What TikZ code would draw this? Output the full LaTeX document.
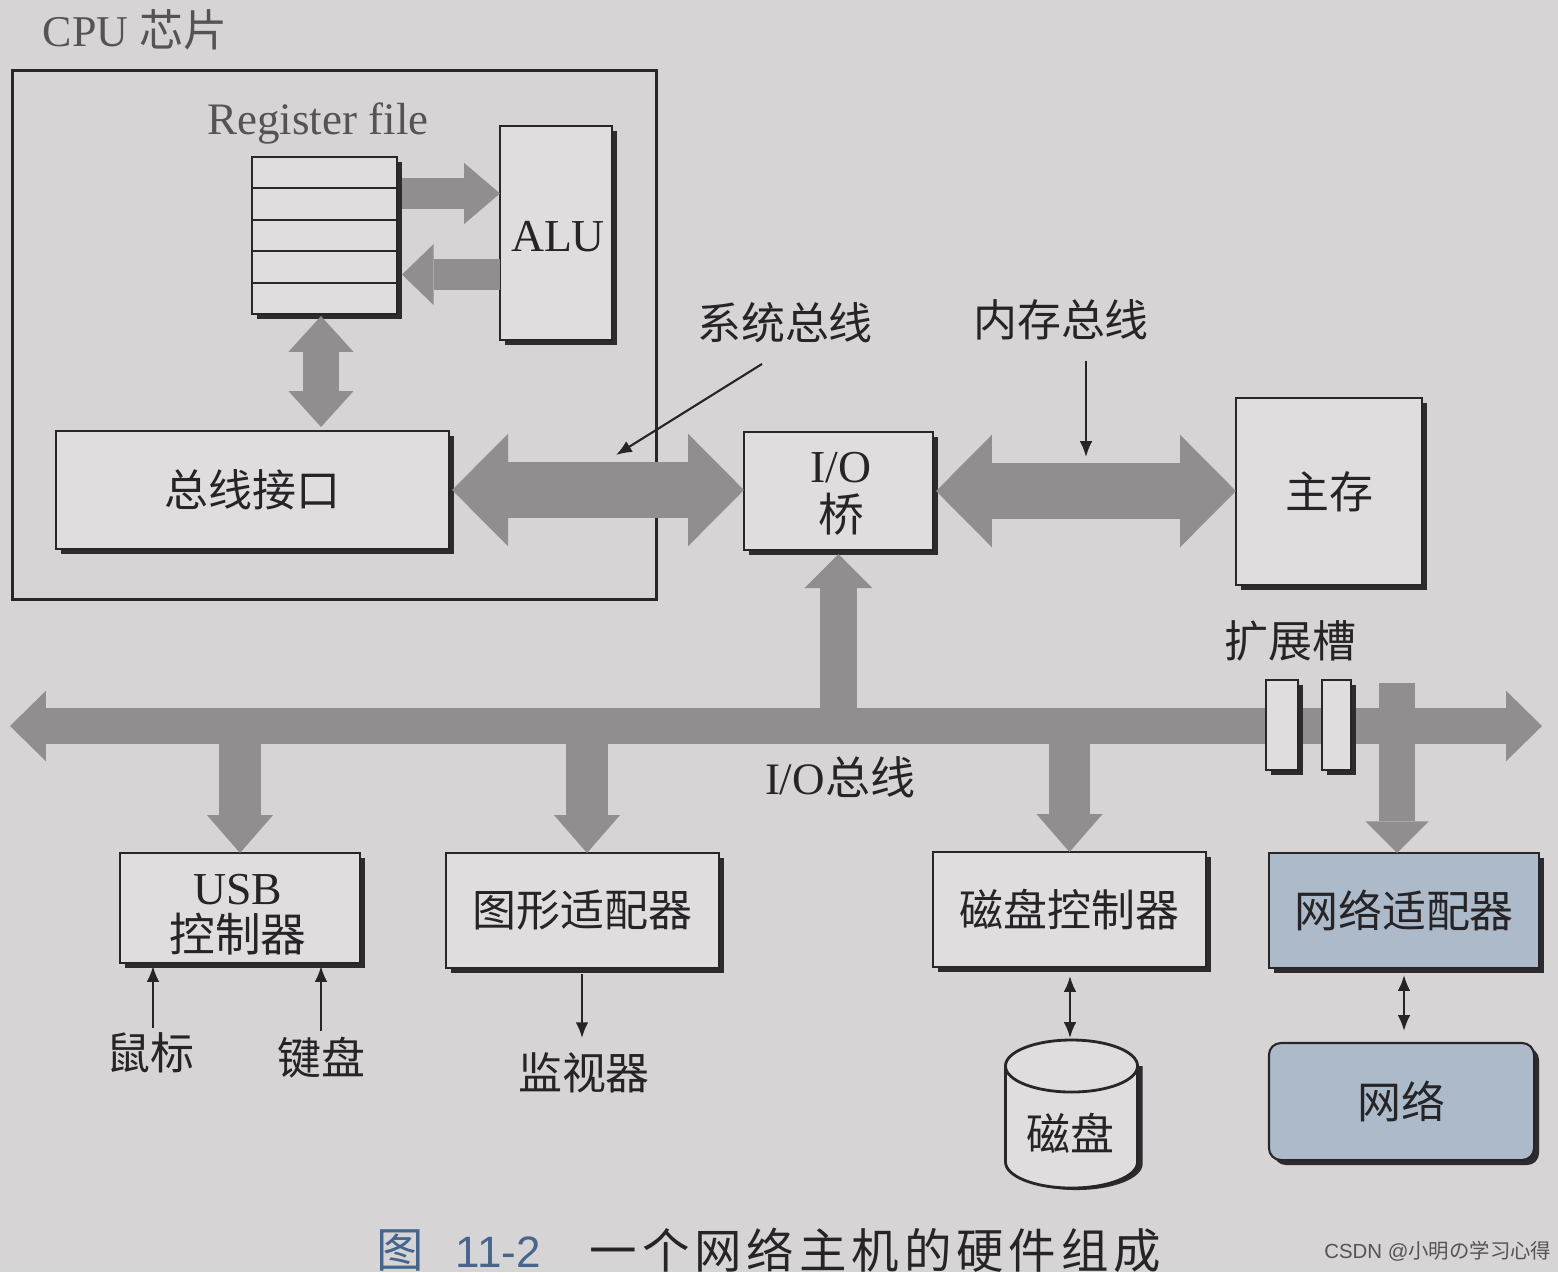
\documentclass[tikz,border=0pt]{standalone}
\usepackage{fontspec}
\setmainfont{Liberation Serif}
\newfontfamily\cjk{Noto Sans CJK SC}
\newfontfamily\sansf{Liberation Sans}
\usetikzlibrary{arrows.meta,calc,shadows}
\definecolor{bgc}{RGB}{214,212,213}
\definecolor{boxc}{RGB}{223,221,222}
\definecolor{linec}{RGB}{40,38,40}
\definecolor{textc}{RGB}{38,36,38}
\definecolor{greyt}{RGB}{85,83,85}
\definecolor{arrowc}{RGB}{145,142,143}
\definecolor{shadowc}{RGB}{45,43,45}
\definecolor{bluec}{RGB}{172,186,201}
\definecolor{capblue}{RGB}{70,100,140}
\newcommand\cks{\kern1.4pt}
\begin{document}
\begin{tikzpicture}[x=0.01cm,y=-0.01cm,
 hwbox/.style={draw=linec, line width=0.6pt, fill=boxc, inner sep=0pt, outer sep=0pt,
   drop shadow={shadow xshift=0.05cm, shadow yshift=-0.05cm, fill=shadowc, opacity=1, draw=none}},
 lbl/.style={text=textc, inner sep=0pt, font=\cjk\fontsize{12.5}{15}\selectfont},
 fatone/.style n args={3}{draw=arrowc, line width=#1, -{Triangle[length=#2, width=#3, line width=0pt]}},
 fattwo/.style n args={3}{draw=arrowc, line width=#1, {Triangle[length=#2, width=#3, line width=0pt]}-{Triangle[length=#2, width=#3, line width=0pt]}},
 thinarr/.style={draw=textc, line width=0.6pt, -{Latex[length=4.5pt, width=3.6pt]}},
 thindbl/.style={draw=textc, line width=0.6pt, {Latex[length=4.5pt, width=3.6pt]}-{Latex[length=4.5pt, width=3.6pt]}}]

\fill[bgc] (0,0) rectangle (1558,1272);
\useasboundingbox (0,0) rectangle (1558,1272);

% CPU chip
\node[text=greyt, inner sep=0pt, font=\fontsize{12.5}{15}\selectfont] (cpul) at (135,30) {CPU {\cjk 芯片}};
\node[draw=linec, line width=0.9pt, minimum width=6.43cm, minimum height=5.28cm, inner sep=0pt] (cpu) at (334.5,335) {};
\node[text=greyt, inner sep=0pt, font=\fontsize{12.8}{15}\selectfont] (regl) at (318,124) {Register file};

\node[hwbox, minimum width=1.45cm, minimum height=1.57cm] (reg) at (324.5,235.5) {};
\foreach \f in {0.2,0.4,0.6,0.8}
  \draw[linec, line width=0.6pt] ($(reg.north west)!\f!(reg.south west)$) -- ($(reg.north east)!\f!(reg.south east)$);
\node[hwbox, minimum width=1.12cm, minimum height=2.14cm] (alu) at (556,233) {};
\node[text=textc, inner sep=0pt, font=\fontsize{13}{15}\selectfont] (alut) at (558,237) {ALU};
\node[hwbox, minimum width=3.93cm, minimum height=1.18cm, lbl] (bi) at (252.5,490) {总线接口};

% register <-> ALU
\coordinate (ra1) at ([xshift=0.05cm, yshift=0.42cm]reg.east);
\draw[fatone={8.8pt}{10.2pt}{17.4pt}] (ra1) -- (ra1 -| alu.west);
\coordinate (ra2) at ([xshift=0.05cm, yshift=-0.39cm]reg.east);
\draw[fatone={8.8pt}{9pt}{17.4pt}] (ra2 -| alu.west) -- (ra2);
% register <-> bus interface
\coordinate (rb) at ([xshift=-0.035cm, yshift=-0.02cm]reg.south);
\draw[fattwo={10.5pt}{10.2pt}{18.5pt}] (rb) -- ([yshift=0.04cm]rb |- bi.north);

% I/O bridge and memory
\node[hwbox, minimum width=1.89cm, minimum height=1.18cm] (iob) at (838.5,491) {};
\node[align=center, inner sep=0pt, text=textc, font=\fontsize{13}{14}\selectfont] (iobt) at (841,494) {I/O\\{\cjk 桥}};
\node[hwbox, minimum width=1.86cm, minimum height=1.87cm, lbl] (mem) at (1329,491.5) {主存};

\draw[fattwo={15.9pt}{15.9pt}{32pt}] ([xshift=0.03cm]bi.east) -- (bi.east -| iob.west);
\draw[fattwo={15.9pt}{15.9pt}{32pt}] ([xshift=0.03cm]iob.east) -- (iob.east -| mem.west);

\node[lbl] (sysl) at (785,323) {系统总线};
\coordinate (sysp) at (616,455);
\draw[thinarr] ([xshift=-0.23cm, yshift=-0.2cm]sysl.south) -- (sysp);
\node[lbl] (meml) at (1061,320) {内存总线};
\coordinate (memp) at (1086,457);
\draw[thinarr] (memp |- meml.south) ++(0,20) -- (memp);

% I/O bus
\coordinate (busL) at (10,726);
\coordinate (busR) at (1542,726);
\draw[fattwo={10.2pt}{10.2pt}{20pt}] (busL) -- (busR);
\node[lbl] (slotl) at (1290,641) {扩展槽};
\node[text=textc, inner sep=0pt, font=\fontsize{12.8}{15}\selectfont] (busl) at (840,777) {I/O{\cjk 总线}};

% devices
\node[hwbox, minimum width=2.40cm, minimum height=1.10cm] (usb) at (240,908) {};
\node[align=center, inner sep=0pt, text=textc, font=\fontsize{13}{13.4}\selectfont] (usbt) at (238,915) {USB\\{\cjk 控制器}};
\node[hwbox, minimum width=2.73cm, minimum height=1.15cm, lbl] (gfx) at (582.5,910.5) {图形适配器};
\node[hwbox, minimum width=2.73cm, minimum height=1.15cm, lbl] (dc) at (1069.5,909.5) {磁盘控制器};
\node[hwbox, fill=bluec, minimum width=2.70cm, minimum height=1.15cm, lbl] (na) at (1404,910.5) {网络适配器};
\node[hwbox, fill=bluec, rounded corners=0.12cm, minimum width=2.65cm, minimum height=1.17cm, lbl] (net) at (1401.5,1101.5) {网络};

% bus -> devices
\draw[fatone={10.5pt}{9.7pt}{19.3pt}] (iob.south |- busL) -- ([yshift=-0.04cm]iob.south);
\draw[fatone={11.9pt}{10.8pt}{18.8pt}] (usb.north |- busL) -- (usb.north);
\coordinate (gfxin) at ($(gfx.north)+(4.5,0)$);
\draw[fatone={11.9pt}{10.8pt}{18.8pt}] (gfxin |- busL) -- (gfxin);
\draw[fatone={11.9pt}{10.8pt}{18.8pt}] (dc.north |- busL) -- (dc.north);
\coordinate (nastub) at (1397,683);
\draw[fatone={10pt}{9pt}{18pt}] (nastub) -- (nastub |- na.north);

% expansion slots
\node[hwbox, minimum width=0.32cm, minimum height=0.90cm] (s1) at (1282,725) {};
\node[hwbox, minimum width=0.29cm, minimum height=0.90cm] (s2) at (1336.5,725) {};

% peripherals
\node[lbl] (mouse) at (150,1053) {鼠标};
\node[lbl] (kb) at (321,1058) {键盘};
\node[lbl] (mon) at (584,1073) {监视器};
\draw[thinarr] ($(mouse.north)+(3,-4)$) -- ($(mouse.north |- usb.south)+(3,3)$);
\draw[thinarr] ($(kb.north)+(0,-6)$) -- ($(kb.north |- usb.south)+(0,3)$);
\draw[thinarr] ($(mon.north |- gfx.south)+(-2,6)$) -- ($(mon.north)+(-2,-14)$);

% disk
\fill[shadowc] (1010.5,1066) -- (1010.5,1164) arc[start angle=180, end angle=360, x radius=0.66cm, y radius=0.26cm] -- (1142.5,1066) -- cycle;
\draw[linec, line width=0.8pt, fill=boxc] (1005.5,1066) -- (1005.5,1162) arc[start angle=180, end angle=360, x radius=0.66cm, y radius=0.26cm] -- (1137.5,1066);
\draw[linec, line width=0.8pt, fill=boxc] (1071.5,1066) ellipse [x radius=0.66cm, y radius=0.26cm];
\coordinate (disktop) at (1070,1038);
\node[lbl] (disklbl) at (1070,1133) {磁盘};
\draw[thindbl] ($(disktop |- dc.south)+(0,9)$) -- (disktop);
\draw[thindbl] ($(na.south)+(0,7)$) -- ($(na.south |- net.north)+(0,-12)$);

% caption
\node[anchor=west, inner sep=0pt, text=capblue, font=\fontsize{13.5}{15}\selectfont] (capn) at (376,1250) {{\cjk 图}\hspace{9pt}{\sansf\fontsize{12.5}{15}\selectfont 11-2}};
\node[anchor=west, inner sep=0pt, text=textc, font=\cjk\fontsize{13.5}{15}\selectfont] (capt) at (589,1250) {一\cks 个\cks 网\cks 络\cks 主\cks 机\cks 的\cks 硬\cks 件\cks 组\cks 成};
\node[anchor=east, inner sep=0pt, text=greyt, font=\cjk\fontsize{5.8}{7}\selectfont] (wm) at (1552,1251) {{\sansf CSDN @}小明の学习心得};
\end{tikzpicture}
\end{document}
